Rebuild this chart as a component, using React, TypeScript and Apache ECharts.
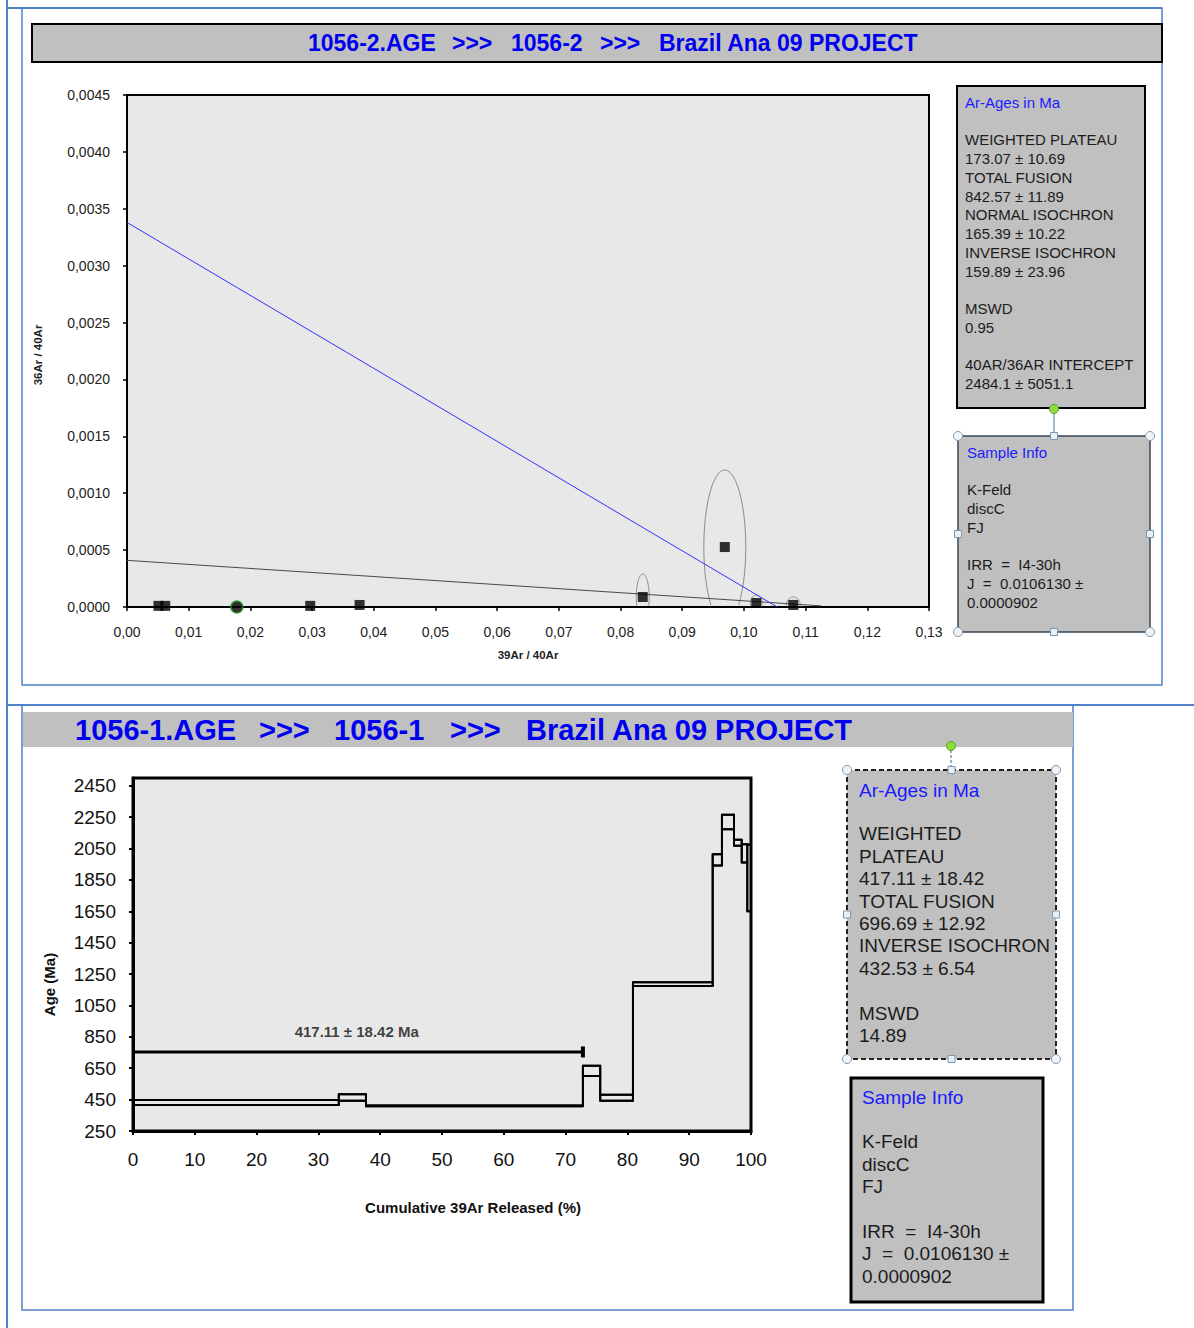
import React, { useEffect, useRef } from "react";
import * as echarts from "echarts";

const FONT = '"Liberation Sans", Arial, sans-serif';

// ---- Top chart: inverse isochron ----
const isoX = [0.0051, 0.0062, 0.0297, 0.0377, 0.0836, 0.0969, 0.102, 0.108];
const isoY = [0.00001, 0.00001, 0.00001, 0.000018, 0.000088, 0.000527, 0.000035, 0.000018];
const greenPoint = [0.0178, 0.0];
// error ellipses: [x, y, halfX, halfY]
const ellipses = [
  [0.0836, 0.000088, 0.00105, 0.000202],
  [0.0969, 0.000527, 0.0034, 0.000677],
  [0.102, 0.000035, 0.00095, 0.00007],
  [0.108, 0.000018, 0.00113, 0.00007],
];
const blueLine = [[0, 0.00338], [0.1054, 0]];
const grayLine = [[0, 0.00041], [0.1125, 0.00001]];

// ---- Bottom chart: age spectrum ----
const cumX = [0, 33.3, 37.7, 72.8, 75.6, 80.9, 93.8, 95.3, 97.25, 98.5, 99.4, 100];
const ageLow = [416, 443, 407, 601, 443, 1175, 1942, 2174, 2068, 1962, 1650];
const ageHigh = [448, 484, 413, 666, 481, 1198, 2014, 2266, 2106, 2078, 2075];
const plateau = { from: 0, to: 72.8, y: 754, label: "417.11 ± 18.42 Ma" };

// ---- Text boxes ----
const title1 = ["1056-2.AGE", ">>>", "1056-2", ">>>", "Brazil Ana 09 PROJECT"];
const title1X = [308, 452, 511, 600, 659];
const title2 = ["1056-1.AGE", ">>>", "1056-1", ">>>", "Brazil Ana 09 PROJECT"];
const title2X = [75, 259, 334, 450, 526];
const topAgeLines = [
  "WEIGHTED PLATEAU", "173.07 ± 10.69", "TOTAL FUSION", "842.57 ± 11.89",
  "NORMAL ISOCHRON", "165.39 ± 10.22", "INVERSE ISOCHRON", "159.89 ± 23.96",
  "", "MSWD", "0.95", "", "40AR/36AR INTERCEPT", "2484.1 ± 5051.1",
];
const sampleLines = ["K-Feld", "discC", "FJ", "", "IRR  =  I4-30h", "J  =  0.0106130 ±", "0.0000902"];
const bottomAgeLines = [
  "WEIGHTED", "PLATEAU", "417.11 ± 18.42", "TOTAL FUSION", "696.69 ± 12.92",
  "INVERSE ISOCHRON", "432.53 ± 6.54", "", "MSWD", "14.89",
];

const FRAME = "#4f81c7";
const BOXFILL = "#c0c0c0";
const BLUE_T = "#0000ee";
const BLUE_L = "#1a1aff";

function handles(x: number, y: number, w: number, h: number) {
  const els: any[] = [];
  const corners = [[x, y], [x + w, y], [x, y + h], [x + w, y + h]];
  corners.forEach((c) =>
    els.push({ type: "circle", shape: { cx: c[0], cy: c[1], r: 4.5 }, style: { fill: "#eef4f8", stroke: "#8796a6", lineWidth: 1 }, z: 20 })
  );
  const mids = [[x + w / 2, y], [x, y + h / 2], [x + w, y + h / 2], [x + w / 2, y + h]];
  mids.forEach((c) =>
    els.push({ type: "rect", shape: { x: c[0] - 3.5, y: c[1] - 3.5, width: 7, height: 7 }, style: { fill: "#e6f0f8", stroke: "#7f95aa", lineWidth: 1 }, z: 20 })
  );
  return els;
}

function textBlock(x: number, y: number, lines: string[], size: number, lh: number) {
  return {
    type: "text",
    x,
    y,
    z: 15,
    style: { text: lines.join("\n"), fill: "#1c1c1c", font: `${size}px ${FONT}`, textAlign: "left", textVerticalAlign: "top", lineHeight: lh },
  };
}

export default function App() {
  const ref = useRef<HTMLDivElement>(null);
  useEffect(() => {
    if (!ref.current) return;
    const chart = echarts.init(ref.current, null, { renderer: "svg" });

    const graphic: any[] = [];
    // page frames
    graphic.push({ type: "line", shape: { x1: 7, y1: 0, x2: 7, y2: 1328 }, style: { stroke: FRAME, lineWidth: 2 } });
    graphic.push({ type: "line", shape: { x1: 7, y1: 8, x2: 1162, y2: 8 }, style: { stroke: FRAME, lineWidth: 2 } });
    graphic.push({ type: "rect", shape: { x: 22, y: 8, width: 1140, height: 677 }, style: { fill: "none", stroke: FRAME, lineWidth: 1.5 } });
    graphic.push({ type: "line", shape: { x1: 7, y1: 705, x2: 1194, y2: 705 }, style: { stroke: FRAME, lineWidth: 2 } });
    graphic.push({ type: "rect", shape: { x: 22, y: 705, width: 1051, height: 605 }, style: { fill: "none", stroke: FRAME, lineWidth: 1.5 } });

    // title bars
    graphic.push({ type: "rect", shape: { x: 32, y: 24, width: 1130, height: 38 }, style: { fill: BOXFILL, stroke: "#000", lineWidth: 2 } });
    title1.forEach((t, i) =>
      graphic.push({ type: "text", x: title1X[i], y: 43, z: 10, style: { text: t, fill: BLUE_T, font: `bold 23px ${FONT}`, textAlign: "left", textVerticalAlign: "middle" } })
    );
    graphic.push({ type: "rect", shape: { x: 23, y: 712, width: 1050, height: 35 }, style: { fill: BOXFILL } });
    title2.forEach((t, i) =>
      graphic.push({ type: "text", x: title2X[i], y: 730, z: 10, style: { text: t, fill: BLUE_T, font: `bold 29px ${FONT}`, textAlign: "left", textVerticalAlign: "middle" } })
    );

    // top box 1
    graphic.push({ type: "rect", shape: { x: 957, y: 86, width: 188, height: 322 }, style: { fill: BOXFILL, stroke: "#000", lineWidth: 2 } });
    graphic.push({ type: "text", x: 965, y: 102, z: 15, style: { text: "Ar-Ages in Ma", fill: BLUE_L, font: `15px ${FONT}`, textAlign: "left", textVerticalAlign: "middle" } });
    graphic.push(textBlock(965, 130.6, topAgeLines, 15, 18.73));
    // connector + green
    graphic.push({ type: "line", shape: { x1: 1054, y1: 412, x2: 1054, y2: 433 }, style: { stroke: "#8aa0b8", lineWidth: 1.5 } });
    graphic.push({ type: "circle", shape: { cx: 1054, cy: 409, r: 4.5 }, z: 21, style: { fill: "#8fdc3c", stroke: "#5aa020", lineWidth: 1 } });
    // top box 2
    graphic.push({ type: "rect", shape: { x: 958, y: 436, width: 192, height: 196 }, style: { fill: BOXFILL, stroke: "#3a4756", lineWidth: 1.5 } });
    graphic.push({ type: "text", x: 967, y: 452, z: 15, style: { text: "Sample Info", fill: BLUE_L, font: `15px ${FONT}`, textAlign: "left", textVerticalAlign: "middle" } });
    graphic.push(textBlock(967, 480.6, sampleLines, 15, 18.75));
    graphic.push(...handles(958, 436, 192, 196));

    // bottom box A
    graphic.push({ type: "rect", shape: { x: 847, y: 770, width: 209, height: 289 }, style: { fill: BOXFILL, stroke: "#222", lineWidth: 2, lineDash: [5, 3] } });
    graphic.push({ type: "text", x: 859, y: 790, z: 15, style: { text: "Ar-Ages in Ma", fill: BLUE_L, font: `19px ${FONT}`, textAlign: "left", textVerticalAlign: "middle" } });
    graphic.push(textBlock(859, 822.8, bottomAgeLines, 19, 22.4));
    graphic.push({ type: "line", shape: { x1: 951, y1: 750, x2: 951, y2: 766 }, style: { stroke: "#7f95aa", lineWidth: 1.5, lineDash: [3, 2] } });
    graphic.push({ type: "circle", shape: { cx: 951, cy: 746, r: 4.5 }, z: 21, style: { fill: "#8fdc3c", stroke: "#5aa020", lineWidth: 1 } });
    graphic.push(...handles(847, 770, 209, 289));
    // bottom box B
    graphic.push({ type: "rect", shape: { x: 851, y: 1078, width: 192, height: 224 }, style: { fill: BOXFILL, stroke: "#000", lineWidth: 3 } });
    graphic.push({ type: "text", x: 862, y: 1097, z: 15, style: { text: "Sample Info", fill: BLUE_L, font: `19px ${FONT}`, textAlign: "left", textVerticalAlign: "middle" } });
    graphic.push(textBlock(862, 1130.8, sampleLines, 19, 22.4));

    const stepRects = ageLow.map((_, i) => [cumX[i], cumX[i + 1], ageLow[i], ageHigh[i]]);
    const upper = ageHigh.map((v, i) => [cumX[i], v]).concat([[100, ageHigh[ageHigh.length - 1]]]);
    const lower = ageLow.map((v, i) => [cumX[i], v]).concat([[100, ageLow[ageLow.length - 1]]]);

    const option: any = {
      animation: false,
      graphic: { elements: graphic },
      grid: [
        { left: 127, top: 95, width: 802, height: 512, show: true, backgroundColor: "#e8e8e8", borderColor: "#000", borderWidth: 2 },
        { left: 133, top: 778, width: 618, height: 353, show: true, backgroundColor: "#e8e8e8", borderColor: "#000", borderWidth: 3 },
      ],
      xAxis: [
        {
          type: "value", gridIndex: 0, min: 0, max: 0.13, interval: 0.01,
          axisLine: { show: true, onZero: false, lineStyle: { color: "#000", width: 2 } },
          axisTick: { show: true, length: 4, lineStyle: { color: "#000", width: 1.5 } },
          splitLine: { show: false },
          axisLabel: { color: "#222", fontSize: 14, fontFamily: FONT, margin: 18, formatter: (v: number) => v.toFixed(2).replace(".", ",") },
          name: "39Ar / 40Ar", nameLocation: "middle", nameGap: 42,
          nameTextStyle: { color: "#222", fontWeight: "bold", fontSize: 11.5, fontFamily: FONT },
        },
        {
          type: "value", gridIndex: 1, min: 0, max: 100, interval: 10,
          axisLine: { show: true, onZero: false, lineStyle: { color: "#000", width: 3 } },
          axisTick: { show: true, length: 4, lineStyle: { color: "#000", width: 2 } },
          splitLine: { show: false },
          axisLabel: { color: "#111", fontSize: 19, fontFamily: FONT, margin: 19 },
          name: "Cumulative 39Ar Released (%)", nameLocation: "middle", nameGap: 69,
          nameTextStyle: { color: "#111", fontWeight: "bold", fontSize: 15, fontFamily: FONT, padding: [0, 0, 0, 62] },
        },
      ],
      yAxis: [
        {
          type: "value", gridIndex: 0, min: 0, max: 0.0045, interval: 0.0005,
          axisLine: { show: true, onZero: false, lineStyle: { color: "#000", width: 2 } },
          axisTick: { show: true, length: 4, lineStyle: { color: "#000", width: 1.5 } },
          splitLine: { show: false },
          axisLabel: { color: "#222", fontSize: 14, fontFamily: FONT, margin: 17, formatter: (v: number) => v.toFixed(4).replace(".", ",") },
          name: "36Ar / 40Ar", nameLocation: "middle", nameGap: 83,
          nameTextStyle: { color: "#222", fontWeight: "bold", fontSize: 11.5, fontFamily: FONT, padding: [0, 8, 0, 0] },
        },
        {
          type: "value", gridIndex: 1, min: 250, max: 2500, interval: 200,
          axisLine: { show: true, onZero: false, lineStyle: { color: "#000", width: 3 } },
          axisTick: { show: true, length: 4, lineStyle: { color: "#000", width: 2 } },
          splitLine: { show: false },
          axisLabel: { color: "#111", fontSize: 19, fontFamily: FONT, margin: 17, showMaxLabel: false,
            formatter: (v: number) => (v > 2450 ? "" : String(v)) },
          name: "Age (Ma)", nameLocation: "middle", nameGap: 76,
          nameTextStyle: { color: "#111", fontWeight: "bold", fontSize: 15, fontFamily: FONT, padding: [0, 60, 0, 0] },
        },
      ],
      series: [
        { type: "line", xAxisIndex: 0, yAxisIndex: 0, data: grayLine, symbol: "none", lineStyle: { color: "#4a4a4a", width: 1 }, z: 3 },
        { type: "line", xAxisIndex: 0, yAxisIndex: 0, data: blueLine, symbol: "none", lineStyle: { color: "#3333ff", width: 1 }, z: 3 },
        {
          type: "custom", xAxisIndex: 0, yAxisIndex: 0, data: ellipses, z: 2,
          renderItem: (params: any, api: any) => {
            const cx = api.value(0), cy = api.value(1), sx = api.value(2), sy = api.value(3);
            const pts: number[][] = [];
            for (let k = 0; k <= 96; k++) {
              const t = -Math.PI / 2 + (k * 2 * Math.PI) / 96;
              const yy = cy + sy * Math.sin(t);
              if (yy < 0) continue;
              pts.push(api.coord([cx + sx * Math.cos(t), yy]));
            }
            return { type: "polyline", shape: { points: pts }, style: { fill: "none", stroke: "#8c8c8c", lineWidth: 1 } };
          },
        },
        {
          type: "scatter", xAxisIndex: 0, yAxisIndex: 0, symbol: "rect", symbolSize: 10,
          data: isoX.map((x, i) => [x, isoY[i]]), itemStyle: { color: "#000" }, z: 5,
        },
        {
          type: "scatter", xAxisIndex: 0, yAxisIndex: 0, symbol: "circle", symbolSize: 12,
          data: [greenPoint], itemStyle: { color: "#000", borderColor: "#1f9a1f", borderWidth: 1.5 }, z: 6,
        },
        // age spectrum
        {
          type: "custom", xAxisIndex: 1, yAxisIndex: 1, data: stepRects, z: 4,
          encode: { x: [0, 1], y: [2, 3] },
          renderItem: (params: any, api: any) => {
            const p0 = api.coord([api.value(0), api.value(3)]);
            const p1 = api.coord([api.value(1), api.value(2)]);
            return { type: "rect", shape: { x: p0[0], y: p0[1], width: p1[0] - p0[0], height: p1[1] - p0[1] }, style: { fill: "none", stroke: "#000", lineWidth: 2 } };
          },
        },
        { type: "line", xAxisIndex: 1, yAxisIndex: 1, data: upper, step: "end", symbol: "none", lineStyle: { color: "#000", width: 2 }, z: 4 },
        { type: "line", xAxisIndex: 1, yAxisIndex: 1, data: lower, step: "end", symbol: "none", lineStyle: { color: "#000", width: 2 }, z: 4 },
        {
          type: "line", xAxisIndex: 1, yAxisIndex: 1, z: 5,
          data: [
            { value: [plateau.from, plateau.y], symbol: "none" },
            { value: [plateau.to, plateau.y], symbol: "rect", symbolSize: [4, 11] },
          ],
          showSymbol: true, lineStyle: { color: "#000", width: 3 }, itemStyle: { color: "#000" },
        },
        {
          type: "scatter", xAxisIndex: 1, yAxisIndex: 1, symbolSize: 0, z: 5,
          data: [[(plateau.from + plateau.to) / 2 - 0.2, plateau.y]],
          label: { show: true, position: "top", distance: 13, formatter: plateau.label, color: "#111", fontWeight: "bold", fontSize: 15, fontFamily: FONT },
        },
      ],
    };
    chart.setOption(option);
    return () => chart.dispose();
  }, []);
  return <div ref={ref} style={{ position: "absolute", left: 0, top: 0, width: 1194, height: 1328 }} />;
}
